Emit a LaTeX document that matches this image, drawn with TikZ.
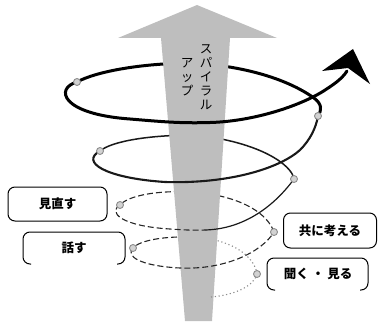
\documentclass[tikz,border=0pt]{standalone}
\usepackage{fontspec}
\newfontfamily\jp{Noto Sans CJK JP}
\definecolor{arrowgray}{HTML}{BEBEBE}
\definecolor{mfill}{HTML}{D2D2D2}
\definecolor{mdraw}{HTML}{8C8C8C}
\tikzset{
  topline/.style={line width=3pt, line cap=round, black},
  loopthree/.style={line width=2.1pt, line cap=round, black!90},
  loopthreeback/.style={line width=1.5pt, line cap=round, black!90},
  solidthin/.style={line width=1.2pt, black!90},
  dashline/.style={line width=1.1pt, black!85, dash pattern=on 6pt off 3pt},
  dotline/.style={line width=1.1pt, black!45, dash pattern=on 1.2pt off 2.6pt},
  marker/.style={circle, draw=mdraw, fill=mfill, line width=0.9pt, inner sep=0pt, minimum size=7pt},
  lbl/.style={font=\jp\bfseries\fontsize{12.5}{14}\selectfont, inner sep=0pt},
  lblbox/.style={lbl, draw, line width=1pt, rounded corners=7pt},
  vtext/.style={font=\jp\fontsize{12.5}{14}\selectfont, align=center, inner sep=0pt, text=black}
}
\begin{document}
\begin{tikzpicture}[x=1pt,y=-1pt]
\useasboundingbox (0,0) rectangle (382,321);
% marker positions
\coordinate (R1) at (257,274);
\coordinate (R2) at (274,232);
\coordinate (R3) at (294,179);
\coordinate (R4) at (318,116);
\coordinate (L1) at (133,248);
\coordinate (L2) at (120,205);
\coordinate (L3) at (100,151);
\coordinate (L4) at (77,82);
\coordinate (S) at (211,297);
\coordinate (E) at (347,71);
% back halves (behind the arrow)
\draw[dotline] (R1) .. controls (255,258) and (235,240) .. (195,237);
\draw[dashline] (195,237) .. controls (165,236) and (140,240) .. (L1);
\draw[dashline] (R2) .. controls (268,215) and (245,197) .. (195,192)
  .. controls (155,190) and (128,196) .. (L2);
\draw[loopthreeback] (R3) .. controls (292,165) and (260,142) .. (195,135)
  .. controls (150,135) and (112,141) .. (L3);
\draw[topline] (R4) .. controls (322,110) and (322,104) .. (314,98)
  .. controls (300,88) and (265,68) .. (195,63)
  .. controls (140,63) and (95,72) .. (L4);
% the big arrow
\fill[arrowgray] (197,5) -- (277,38) -- (230,38) -- (212,321) -- (185,321)
  -- (161,38) -- (118,38) -- cycle;
% vertical text
\node[vtext] (spiral) at (206,77) {ス\\パ\\イ\\ラ\\ル};
\node[vtext] (up) at (187,77) {ア\\ッ\\プ};
% front halves
\draw[dotline] (S) .. controls (235,295) and (254,286) .. (R1);
\draw[dashline] (L1) .. controls (125,256) and (140,266) .. (180,268)
  .. controls (225,270) and (262,252) .. (R2);
\draw[dashline] (L2) .. controls (108,212) and (120,226) .. (170,229)
  .. controls (185,230) and (195,230.5) .. (205,230);
\draw[solidthin] (205,230) .. controls (245,229) and (275,205) .. (R3);
\draw[loopthree] (L3) .. controls (80,162) and (105,178) .. (165,182)
  .. controls (230,184) and (280,168) .. (300,150)
  .. controls (310,140) and (316,128) .. (R4);
\draw[topline] (L4) .. controls (55,88) and (60,114) .. (130,119)
  .. controls (160,121.5) and (180,123.5) .. (210,122.5)
  .. controls (250,121.5) and (295,108) .. (322,92)
  .. controls (333,85) and (342,79) .. (E);
\fill[black] (353,49) -- (322,71) -- (348,68) -- (370,84) -- cycle;
% markers
\foreach \m in {R1,R2,R3,R4,L1,L2,L3,L4} \node[marker] (m\m) at (\m) {};
% labels
\node[lblbox, minimum width=99pt, minimum height=34pt] (minaosu) at (57.5,204) {見直す};
\node[lblbox, minimum width=93pt, minimum height=35pt] (tomoni) at (330,230.5) {共に考える};
\node[lbl] (hanasu) at (74,248) {話す};
\draw[line width=1pt, rounded corners=7pt] (31,264) -- (23,264) -- (23,232) -- (125,232) -- (125,264) -- (117,264);
\node[lbl] (kiku) at (318,274) {聞く\hspace{3pt}・\hspace{3pt}見る};
\draw[line width=1pt, rounded corners=7pt] (275,290) -- (267,290) -- (267,258) -- (368,258) -- (368,290) -- (360,290);
\end{tikzpicture}
\end{document}
